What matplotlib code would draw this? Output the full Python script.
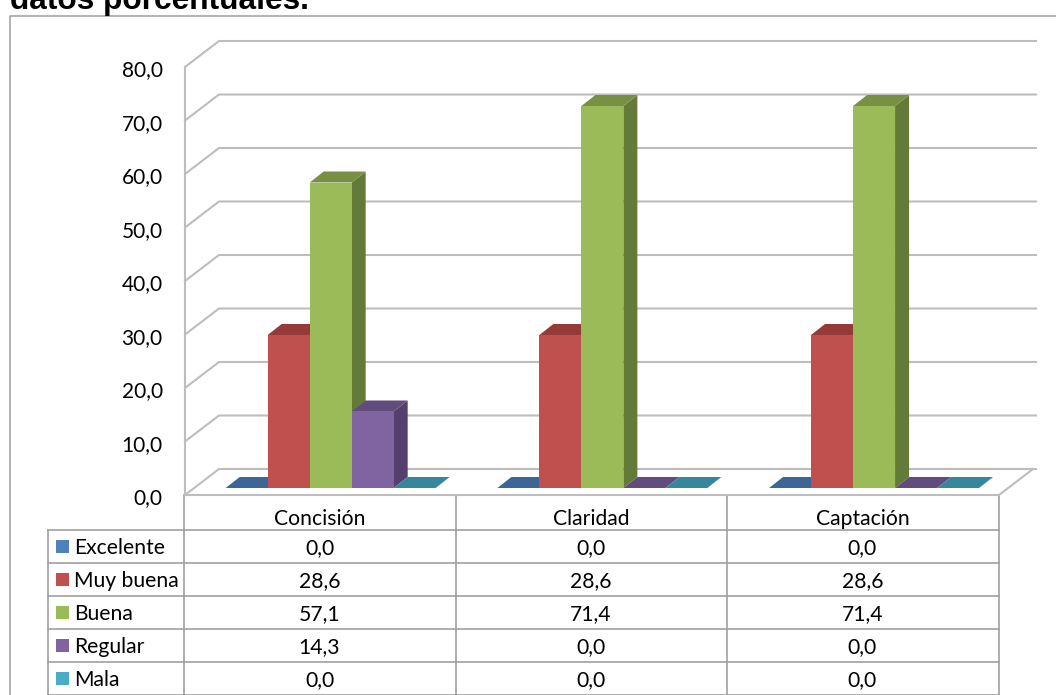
import matplotlib
matplotlib.use('Agg')
import matplotlib.pyplot as plt
from matplotlib.patches import Polygon, Rectangle
from matplotlib.transforms import ScaledTranslation

categorias = ['Concisión', 'Claridad', 'Captación']
series = ['Excelente', 'Muy buena', 'Buena', 'Regular', 'Mala']
excelente = [0.0, 0.0, 0.0]
muy_buena = [28.6, 28.6, 28.6]
buena = [57.1, 71.4, 71.4]
regular = [14.3, 0.0, 0.0]
mala = [0.0, 0.0, 0.0]
valores = [excelente, muy_buena, buena, regular, mala]
yticks = [0, 10, 20, 30, 40, 50, 60, 70, 80]

frente = ['#4F81BD', '#C0504D', '#9BBB59', '#8064A2', '#4BACC6']
arriba = ['#3C6794', '#953A38', '#779044', '#624C7E', '#38869B']
lado = ['#325478', '#7A2F2D', '#647A39', '#553F6E', '#2E6E80']
gris = '#BDBDBD'

plt.rcParams['font.family'] = ['Lato', 'DejaVu Sans']
W, H = 1056, 695
fig = plt.figure(figsize=(W / 100, H / 100), dpi=100, facecolor='white')

# overlay in pixels for the frame, title and table
capa = fig.add_axes([0, 0, 1, 1])
capa.set_xlim(0, W)
capa.set_ylim(H, 0)
capa.axis('off')

# plot area: front plane of the fake 3d box
x0, x1, y0, y1 = 185, 999, 495, 67
ax = fig.add_axes([x0 / W, (H - y0) / H, (x1 - x0) / W, (y0 - y1) / H])
ax.patch.set_alpha(0)
ax.set_xlim(0, 3)
ax.set_ylim(0, 80)
for s in ax.spines.values():
    s.set_visible(False)
ax.set_xticks([])
ax.set_yticks(yticks)
ax.set_yticklabels([f'{v:.1f}'.replace('.', ',') for v in yticks], fontsize=15, color='black')
ax.tick_params(axis='y', length=0, pad=16)
for t in ax.get_yticklabels():
    t.set_transform(t.get_transform() + ScaledTranslation(0, -0.8 / 72, fig.dpi_scale_trans))

px_x = 3 / (x1 - x0)
px_y = 80 / (y0 - y1)

# walls and floor
fondo_x, fondo_y = 34 * px_x, 26 * px_y
fin_x = 3 + 37 * px_x
for v in yticks:
    ax.plot([0, fondo_x, fin_x], [v, v + fondo_y, v + fondo_y], color=gris, lw=1.5, clip_on=False, zorder=1)
ax.plot([0, 0], [0, 80], color=gris, lw=1.5, clip_on=False, zorder=1)
ax.plot([0, 3, 3 + fondo_x], [0, 0, fondo_y], color=gris, lw=1.5, clip_on=False, zorder=1)

# bars
ancho = 42 * px_x
paso = 271.7 * px_x
dx_base, dy_base = 10 * px_x, 7 * px_y
dx, dy = 14 * px_x, 11 * px_y
for i, vals in enumerate(valores):
    for j, v in enumerate(vals):
        izq = 0.5 + j * paso + dx_base + (i - 2.5) * ancho
        der = izq + ancho
        base = dy_base
        tope = base + v
        ax.add_patch(Polygon([(der, base), (der + dx, base + dy), (der + dx, tope + dy), (der, tope)],
                             fc=lado[i], ec='none', clip_on=False, zorder=2 + i))
        ax.add_patch(Polygon([(izq, tope), (der, tope), (der + dx, tope + dy), (izq + dx, tope + dy)],
                             fc=arriba[i], ec='none', clip_on=False, zorder=2 + i))
        if v > 0:
            ax.bar(izq, v, width=ancho, bottom=base, align='edge', color=frente[i], clip_on=False, zorder=2 + i)

# outer frame
capa.plot([10, 10, W], [H, 16, 16], color='#A6A6A6', lw=1.2, clip_on=False)
capa.text(10, 8.5, 'datos porcentuales.', fontsize=22.8, fontweight='bold', family='Liberation Sans',
          ha='left', va='baseline', color='black')

# data table
filas = [530, 563, 596, 629, 662, 695]
cols = [184, 456, 727, 999]
linea = dict(color='#A0A0A0', lw=1.2, clip_on=False)
for c in cols:
    capa.plot([c, c], [y0, H], **linea)
capa.plot([48, 48], [filas[0], H], **linea)
for f in filas:
    capa.plot([48, cols[-1]], [f, f], **linea)

for j, cat in enumerate(categorias):
    cx = (cols[j] + cols[j + 1]) / 2 - 0.5
    capa.text(cx, 525, cat, fontsize=15.2, ha='center', va='baseline', color='black')
    for i, vals in enumerate(valores):
        capa.text(cx, filas[i + 1] - 9, f'{vals[j]:.1f}'.replace('.', ','), fontsize=15.2, ha='center',
                  va='baseline', color='black')
for i, nombre in enumerate(series):
    cy = (filas[i] + filas[i + 1]) / 2
    capa.add_patch(Rectangle((56, cy - 6.5), 13, 13, fc=frente[i], ec='none'))
    capa.text(74, filas[i + 1] - 9, nombre, fontsize=15.2, ha='left', va='baseline', color='black')

fig.savefig('out.png', dpi=100)
